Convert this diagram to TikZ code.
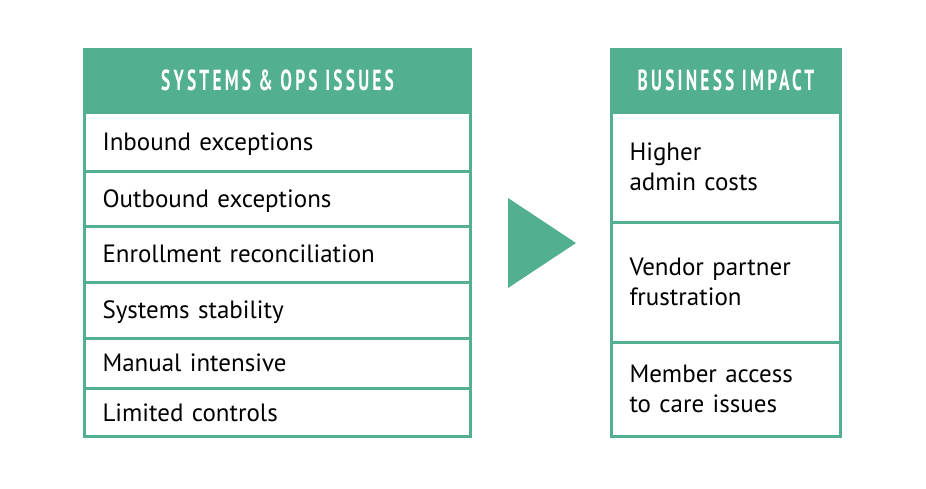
\documentclass[tikz,border=0pt]{standalone}
\usepackage{fontspec}
\setmainfont{PT Sans}
\newfontfamily\headfont[FakeStretch=0.6,LetterSpace=11]{PT Sans}
\usepackage{tikz}
\usetikzlibrary{positioning}

\definecolor{teal}{RGB}{82,176,145}

\tikzset{
  header/.style={fill=teal, text=white, anchor=north west, inner sep=0pt, outer sep=0pt,
    font=\headfont\bfseries\fontsize{29}{29}\selectfont},
  cell/.style={draw=teal, line width=3pt, anchor=north west, inner xsep=18pt, inner ysep=0pt,
    outer sep=0pt, align=left, font=\fontsize{25}{30}\selectfont}
}

\begin{document}
\begin{tikzpicture}[x=1pt, y=-1pt]
\useasboundingbox (0,0) rectangle (926,488);

% -------------------------------------------------------
% 1. Left column: systems and operations issues
% -------------------------------------------------------
\node[header, minimum width=389pt, minimum height=64pt] (sys) at (83,48) {SYSTEMS \& OPS ISSUES};
\foreach \top/\bot/\txt [count=\i] in {112/171/Inbound exceptions, 171/226/Outbound exceptions,
    226/282/Enrollment reconciliation, 282/338/Systems stability,
    338/388/Manual intensive, 388/436.5/Limited controls} {
  \node[cell, text width=350pt, text depth=0pt, minimum height={(\bot-\top)*1pt}] (sys\i) at (84.5,\top) {\txt};
}

% -------------------------------------------------------
% 2. Arrow between the columns
% -------------------------------------------------------
\fill[teal] (508,198) -- (576,243) -- (508,288) -- cycle;

% -------------------------------------------------------
% 3. Right column: business impact
% -------------------------------------------------------
\node[header, minimum width=232pt, minimum height=64pt] (biz) at (610,48) {BUSINESS IMPACT};
\foreach \top/\bot/\txt [count=\i] in {112/222/Higher\\admin costs,
    222/342/Vendor partner\\frustration, 342/436.5/Member access\\to care issues} {
  \node[cell, text width=193pt, minimum height={(\bot-\top)*1pt}] (biz\i) at (611.5,\top) {\txt};
}

\end{tikzpicture}
\end{document}
